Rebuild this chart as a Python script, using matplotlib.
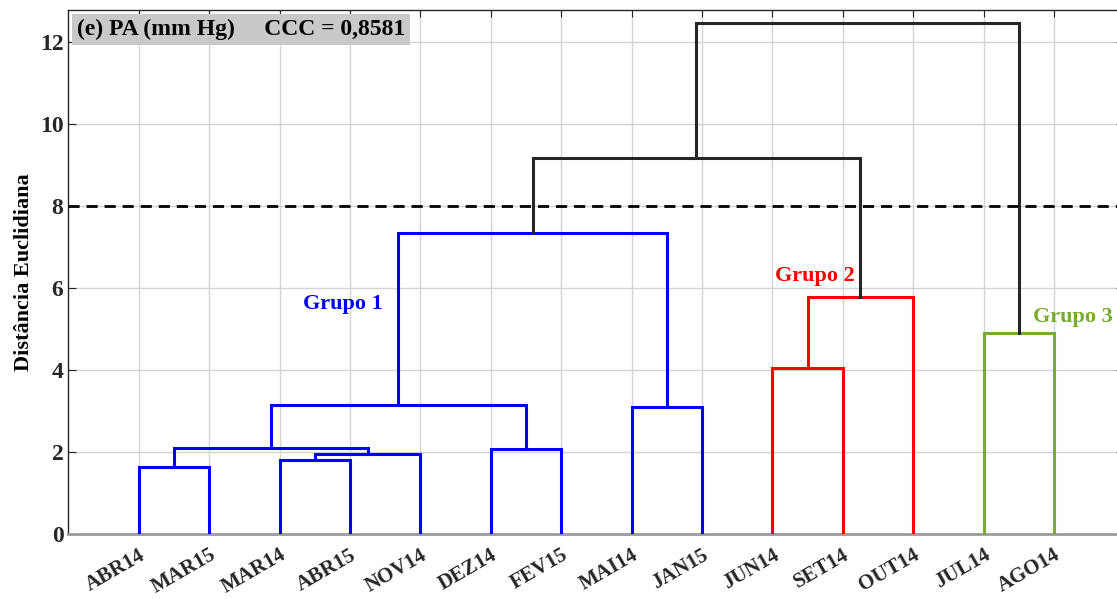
import numpy as np
import matplotlib
matplotlib.use("Agg")
import matplotlib.pyplot as plt

plt.rcParams['font.family'] = ['Liberation Serif', 'DejaVu Serif']
plt.rcParams['font.weight'] = 'bold'

labels = ['ABR14', 'MAR15', 'MAR14', 'ABR15', 'NOV14', 'DEZ14', 'FEV15',
          'MAI14', 'JAN15', 'JUN14', 'SET14', 'OUT14', 'JUL14', 'AGO14']

# linkage style: (cluster a, cluster b, height); new clusters numbered 14, 15, ...
merge_a = [0, 2, 15, 5, 14, 7, 18, 9, 12, 21, 20, 24, 25]
merge_b = [1, 3, 4, 6, 16, 8, 17, 10, 13, 11, 19, 23, 22]
merge_h = [1.63, 1.80, 1.96, 2.07, 2.10, 3.10, 3.15, 4.05, 4.90, 5.77, 7.33, 9.18, 12.46]
merge_color = ['blue', 'blue', 'blue', 'blue', 'blue', 'blue', 'blue',
               'red', 'green', 'red', 'blue', 'black', 'black']

cut_height = 8
groups = ['Grupo 1', 'Grupo 2', 'Grupo 3']
group_x = [3.9, 10.6, 14.27]
group_y = [5.62, 6.3, 5.3]
group_color = ['blue', 'red', 'green']

colors = {'blue': '#0000ff', 'red': '#ff0000', 'green': '#77ac30', 'black': '#262626'}

fig = plt.figure(figsize=(11.17, 5.99), dpi=100)
ax = fig.add_axes([68.3 / 1117, 1 - 534 / 599, 15 * 70.4 / 1117, 524 / 599])

n = len(labels)
xpos = {i: i + 1.0 for i in range(n)}
ypos = {i: 0.0 for i in range(n)}
for k in range(len(merge_h)):
    a, b, h = merge_a[k], merge_b[k], merge_h[k]
    c = colors[merge_color[k]]
    ax.plot([xpos[a], xpos[a], xpos[b], xpos[b]], [ypos[a], h, h, ypos[b]],
            color=c, lw=2.2, solid_joinstyle='miter', zorder=3)
    xpos[n + k] = (xpos[a] + xpos[b]) / 2
    ypos[n + k] = h

ax.axhline(cut_height, color='black', lw=2, ls=(0, (4, 2.5)), zorder=4)

for g, gx, gy, gc in zip(groups, group_x, group_y, group_color):
    ax.text(gx, gy, g, color=colors[gc], fontsize=16, fontweight='bold',
            ha='center', va='center', zorder=5)

ax.set_xlim(0, 15)
ax.set_ylim(0, 12.78)
ax.set_xticks(np.arange(1, n + 1))
ax.set_xticklabels(labels, rotation=30, ha='right', va='top', rotation_mode='anchor',
                   fontsize=15, fontweight='bold', color='#262626')
ax.set_yticks(np.arange(0, 13, 2))
ax.set_yticklabels([str(v) for v in range(0, 13, 2)], fontsize=17, fontweight='bold',
                   color='#262626')
ax.tick_params(axis='y', direction='in', length=6, right=True, color='#262626')
ax.tick_params(axis='x', direction='in', top=True, bottom=False, length=5,
               pad=8, color='#262626')
ax.grid(True, color='#d4d4d4', lw=1)
ax.set_axisbelow(True)
for s in ax.spines.values():
    s.set_color('#262626')
    s.set_linewidth(1)
ax.spines['bottom'].set_color('#9a9a9a')
ax.spines['bottom'].set_linewidth(2)

ax.set_ylabel('Distância Euclidiana', fontsize=16, fontweight='bold', labelpad=4)

ax.text(0.008, 0.983, '(e) PA (mm Hg)     CCC = 0,8581', transform=ax.transAxes,
        fontsize=17, fontweight='bold', ha='left', va='top', zorder=6,
        bbox=dict(boxstyle='square,pad=0.22', fc='#c9c9c9', ec='none'))

fig.savefig('out.png', dpi=100)
